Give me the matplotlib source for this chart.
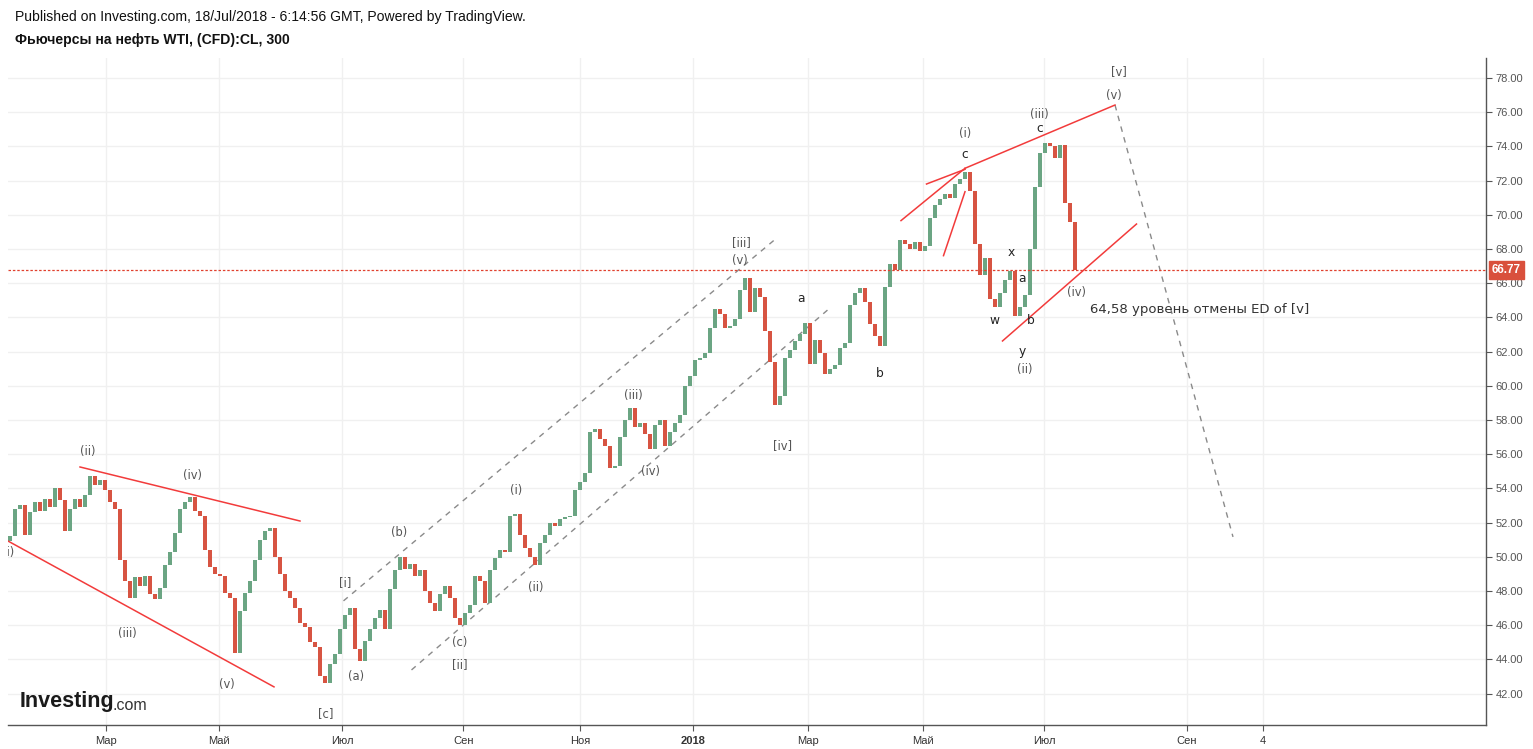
import matplotlib
matplotlib.use("Agg")
import matplotlib.pyplot as plt
import numpy as np

# ---------------- data ----------------
# closing prices sampled along the chart (every ~1.5 trading days), Jan 2017 -> 18 Jul 2018
first_open = 50.9
closes = [
    51.2, 52.8, 53.0, 51.3, 52.6, 53.2, 52.7, 53.4, 52.9, 54.0,
    53.3, 51.5, 52.8, 53.4, 52.9, 53.6, 54.7, 54.2, 54.5, 53.9,
    53.2, 52.8, 49.8, 48.6, 47.6, 48.8, 48.3, 48.9, 47.8, 47.5,
    48.2, 49.5, 50.3, 51.4, 52.8, 53.2, 53.5, 52.7, 52.4, 50.4,
    49.4, 49.0, 48.9, 47.9, 47.6, 44.4, 46.8, 47.9, 48.6, 49.8,
    51.0, 51.5, 51.7, 50.0, 49.0, 48.0, 47.6, 47.0, 46.1, 45.9,
    45.0, 44.7, 43.0, 42.6, 43.7, 44.3, 45.8, 46.6, 47.0, 44.6,
    43.9, 45.1, 45.8, 46.4, 46.9, 45.8, 48.1, 49.2, 50.0, 49.3,
    49.6, 48.9, 49.2, 48.0, 47.3, 46.8, 47.8, 48.3, 47.6, 46.4,
    46.0, 46.7, 47.2, 48.9, 48.6, 47.3, 49.2, 49.9, 50.4, 50.3,
    52.4, 52.5, 51.3, 50.5, 50.0, 49.5, 50.8, 51.3, 52.0, 51.8,
    52.2, 52.3, 52.4, 53.9, 54.4, 54.9, 57.3, 57.5, 56.9, 56.5,
    55.2, 55.3, 57.0, 58.0, 58.7, 57.6, 57.8, 57.2, 56.3, 57.7,
    58.0, 56.5, 57.3, 57.8, 58.3, 60.0, 60.6, 61.5, 61.6, 61.9,
    63.4, 64.5, 64.2, 63.4, 63.5, 63.9, 65.6, 66.3, 64.3, 65.7,
    65.2, 63.2, 61.4, 58.9, 59.4, 61.6, 62.1, 62.6, 63.0, 63.7,
    61.3, 62.7, 61.9, 60.7, 61.0, 61.2, 62.2, 62.5, 64.7, 65.4,
    65.7, 64.9, 63.6, 62.9, 62.3, 65.8, 67.1, 66.8, 68.5, 68.3,
    68.0, 68.4, 67.9, 68.2, 69.8, 70.6, 70.9, 71.2, 71.0, 71.8,
    72.1, 72.5, 71.4, 68.3, 66.5, 67.5, 65.1, 64.6, 65.4, 66.2,
    66.7, 64.1, 64.6, 65.3, 68.0, 71.6, 73.6, 74.2, 74.0, 73.3,
    74.1, 70.7, 69.6, 66.77,
]
last_price = 66.77

# x-axis (bar-sample index) tick positions and labels
tick_pos = [19.14, 41.86, 66.46, 90.66, 114.06, 136.66, 159.66, 182.66, 206.86, 235.34, 250.66]
tick_labels = ["Мар", "Май", "Июл", "Сен", "Ноя", "2018", "Мар", "Май", "Июл", "Сен", "4"]
price_ticks = list(range(42, 80, 2))

# wave labels: (text, index, price, dark?)
wave_labels = [
    ("(i)", -0.3, 50.22, False), ("(ii)", 15.6, 56.13, False), ("(iii)", 23.4, 45.54, False),
    ("(iv)", 36.4, 54.78, False), ("(v)", 43.4, 42.5, False), ("[c]", 63.2, 40.81, False),
    ("[i]", 67.0, 48.47, False), ("(a)", 69.2, 42.97, False), ("(b)", 77.8, 51.39, False),
    ("(c)", 90.0, 44.96, False), ("[ii]", 90.0, 43.67, False), ("(i)", 101.2, 53.85, False),
    ("(ii)", 105.2, 48.18, False), ("(iii)", 124.6, 59.46, False), ("(iv)", 128.0, 54.96, False),
    ("[iii]", 146.2, 68.35, False), ("(v)", 146.0, 67.3, False), ("[iv]", 154.6, 56.48, False),
    ("a", 158.2, 65.08, True), ("b", 174.0, 60.69, True), ("(i)", 191.0, 74.78, False),
    ("c", 191.0, 73.5, True), ("(iii)", 205.8, 75.84, False), ("c", 206.0, 75.02, True),
    ("x", 200.2, 67.82, True), ("a", 202.4, 66.3, True), ("w", 196.8, 63.79, True),
    ("b", 204.2, 63.79, True), ("y", 202.4, 61.98, True), ("(ii)", 203.0, 60.98, False),
    ("(iv)", 213.2, 65.43, False), ("[v]", 221.8, 78.35, False), ("(v)", 220.8, 76.95, False),
]
note_text = "64,58 уровень отмены ED of [v]"
note_pos = (216.0, 64.49)

# red trend lines: ((x0, p0), (x1, p1))
red_lines = [
    ((14.0, 55.25), (58.0, 52.09)),
    ((-0.4, 50.92), (52.8, 42.39)),
    ((178.2, 69.66), (191.0, 72.72)),
    ((183.3, 71.80), (191.0, 72.66)),
    ((186.7, 67.61), (191.0, 71.35)),
    ((191.0, 72.72), (221.0, 76.42)),
    ((198.5, 62.62), (225.3, 69.46)),
]
# gray dashed lines
dashed_lines = [
    ((66.7, 47.42), (153.5, 68.68)),
    ((80.3, 43.38), (164.3, 64.63)),
    ((221.0, 76.42), (244.6, 51.16)),
]

# ---------------- styling ----------------
UP = "#6BA583"
DOWN = "#D75442"
GRID = "#F0F0F0"
LABEL = "#555555"
RED = "#F23B3B"
plt.rcParams["font.family"] = ["Liberation Sans", "DejaVu Sans"]

fig = plt.figure(figsize=(15.33, 7.49), dpi=100)
fig.patch.set_facecolor("white")
ax = fig.add_axes([8 / 1533, 24 / 749, 1478 / 1533, 667 / 749])

x = np.arange(len(closes))
opens = np.array([first_open] + closes[:-1])
cl = np.array(closes)
colors = [UP if c >= o else DOWN for o, c in zip(opens, cl)]
heights = cl - opens
heights = np.where(np.abs(heights) < 0.08, np.sign(heights + 1e-9) * 0.08, heights)
ax.bar(x, heights, bottom=opens, width=0.75, color=colors, linewidth=0, zorder=3)

ax.set_xlim(-0.4, 295.2)
ax.set_ylim(40.16, 79.17)

# grid & ticks
ax.set_xticks(tick_pos)
ax.set_xticklabels(tick_labels)
for lbl in ax.get_xticklabels():
    if lbl.get_text() == "2018":
        lbl.set_fontweight("bold")
ax.set_yticks(price_ticks)
ax.set_yticklabels([f"{p:.2f}" for p in price_ticks])
ax.yaxis.tick_right()
ax.tick_params(axis="both", colors=LABEL, labelsize=8, length=4, width=0.8)
ax.tick_params(axis="x", labelcolor="#333333", pad=4)
ax.tick_params(axis="y", pad=3)
ax.grid(True, color=GRID, linewidth=1, zorder=0)
for s in ["left", "top"]:
    ax.spines[s].set_visible(False)
for s in ["right", "bottom"]:
    ax.spines[s].set_color("#555555")
    ax.spines[s].set_linewidth(1)

# last price line and tag
ax.axhline(last_price, color="#E0412F", linestyle=(0, (2, 1.5)), linewidth=0.9, zorder=4)
ax.annotate(f"{last_price:.2f}", xy=(1.0, last_price), xycoords=("axes fraction", "data"),
            xytext=(4, 0), textcoords="offset points", ha="left", va="center",
            fontsize=8.5, fontweight="bold", color="white", annotation_clip=False,
            bbox=dict(boxstyle="square,pad=0.25", fc="#D9503C", ec="#D9503C"))

# trend lines
for (x0, p0), (x1, p1) in red_lines:
    ax.plot([x0, x1], [p0, p1], color=RED, linewidth=1.1, zorder=5, clip_on=True)
for (x0, p0), (x1, p1) in dashed_lines:
    ax.plot([x0, x1], [p0, p1], color="#8A8A8A", linewidth=1.0, linestyle=(0, (4, 4)), zorder=2)

# wave labels
for txt, xi, pi, dark in wave_labels:
    ax.text(xi, pi, txt, ha="center", va="center", fontsize=8.8 if dark else 8.3,
            color="#222222" if dark else LABEL, family=["DejaVu Sans"], zorder=6, clip_on=True)
ax.text(note_pos[0], note_pos[1], note_text, ha="left", va="center", fontsize=9.5,
        color="#333333", family=["DejaVu Sans"], zorder=6)

# header
fig.text(15 / 1533, 1 - 17 / 749, "Published on Investing.com, 18/Jul/2018 - 6:14:56 GMT, Powered by TradingView.",
         ha="left", va="center", fontsize=10.05, color="#111111")
fig.text(15 / 1533, 1 - 40 / 749, "Фьючерсы на нефть WTI, (CFD):CL, 300",
         ha="left", va="center", fontsize=10.1, fontweight="bold", color="#111111")

# Investing.com logo
fig.text(20 / 1533, 1 - 702 / 749, "Investing", ha="left", va="center", fontsize=15.5,
         fontweight="bold", color="#1A1A1A")
fig.text(112 / 1533, 1 - 705 / 749, ".com", ha="left", va="center", fontsize=11.5,
         color="#333333")

fig.savefig("out.png", dpi=100, facecolor="white")
